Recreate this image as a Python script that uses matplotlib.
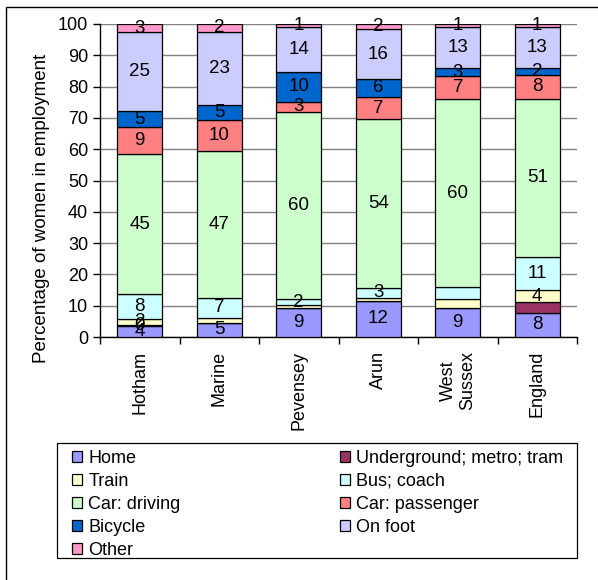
import matplotlib.pyplot as plt
import matplotlib.patches as mpatches
import numpy as np

plt.rcParams['font.family'] = ['Liberation Sans', 'DejaVu Sans']

areas = ["Hotham", "Marine", "Pevensey", "Arun", "West\nSussex", "England"]

modes = ["Home", "Underground; metro; tram", "Train", "Bus; coach",
         "Car: driving", "Car: passenger", "Bicycle", "On foot", "Other"]

home        = [3.6, 4.6, 9.4, 11.6, 9.3, 7.7]
underground = [0.2, 0.0, 0.0, 0.0, 0.0, 3.4]
train       = [2.0, 1.4, 0.7, 0.9, 2.7, 3.8]
bus         = [7.9, 6.6, 2.0, 3.2, 4.1, 10.6]
car_driving = [44.8, 46.8, 59.7, 53.9, 59.8, 50.6]
car_pass    = [8.6, 10.0, 3.4, 7.1, 7.4, 7.6]
bicycle     = [5.0, 4.8, 9.6, 5.8, 2.6, 2.2]
on_foot     = [25.2, 23.4, 14.1, 15.8, 13.1, 13.0]
other       = [2.7, 2.4, 1.1, 1.7, 1.0, 1.1]

series = [home, underground, train, bus, car_driving, car_pass, bicycle, on_foot, other]

colors = ["#9999FF", "#993366", "#FFFFCC", "#CCFFFF", "#CCFFCC",
          "#FF8080", "#0066CC", "#CCCCFF", "#FF99CC"]

# labels that the original chart leaves out (series index, area index)
hidden = {(1, 1), (1, 2), (1, 3), (1, 4), (1, 5),
          (2, 1), (2, 2), (2, 3), (2, 4), (3, 4)}

W, H = 598, 580
fig = plt.figure(figsize=(W / 100, H / 100), dpi=100)
ax = fig.add_axes([100 / W, 1 - 337 / H, 477 / W, 313 / H])

x = np.arange(len(areas))
bottom = np.zeros(len(areas))
handles = []
for i, (name, vals, col) in enumerate(zip(modes, series, colors)):
    vals = np.array(vals)
    bars = ax.bar(x, vals, 0.57, bottom=bottom, color=col, edgecolor="black",
                  linewidth=0.9, label=name, zorder=3)
    handles.append(bars)
    for j, v in enumerate(vals):
        if (i, j) in hidden:
            continue
        ax.text(x[j], bottom[j] + v / 2, f"{v:.0f}", ha="center", va="center",
                fontsize=13.5, zorder=4)
    bottom += vals

ax.set_xlim(-0.5, len(areas) - 0.5)
ax.set_ylim(0, 100)
ax.set_yticks(range(0, 101, 10))
ax.yaxis.grid(True, color="#808080", linewidth=1, zorder=0)
ax.set_xticks(x)
ax.set_xticklabels(areas, rotation=90, fontsize=13, ha="center", va="top",
                   multialignment="center")
ax.set_xticks(np.arange(len(areas) + 1) - 0.5, minor=True)
ax.tick_params(axis="x", which="major", length=0, pad=10)
ax.tick_params(axis="x", which="minor", length=5, direction="out", width=1)
ax.tick_params(axis="y", length=5, direction="out", labelsize=13, width=1)
ax.set_ylabel("Percentage of women in employment", fontsize=13.5)
ax.yaxis.set_label_coords(-0.105, 0.41)
for side in ["top", "right"]:
    ax.spines[side].set_visible(False)
ax.spines["left"].set_linewidth(1)
ax.spines["bottom"].set_linewidth(1)

# legend laid out row by row like the original
order = [0, 2, 4, 6, 8, 1, 3, 5, 7]
leg = fig.legend([handles[k] for k in order], [modes[k] for k in order],
                 ncol=2, loc="upper left",
                 bbox_to_anchor=(72 / W, 1 - 450 / H, 491 / W, 0),
                 bbox_transform=fig.transFigure, mode="expand",
                 fontsize=13, frameon=False,
                 handlelength=0.55, handleheight=0.55, handletextpad=0.35,
                 labelspacing=0.33, borderpad=0, borderaxespad=0)
fig.add_artist(mpatches.Rectangle((57 / W, 1 - 558 / H), 520 / W, 115 / H,
                                  transform=fig.transFigure, fill=False,
                                  edgecolor="black", linewidth=0.9))

# outer frame of the picture
fig.add_artist(mpatches.Rectangle((6 / W, -0.5), 2, 1.5 - 7 / H,
                                  transform=fig.transFigure, fill=False,
                                  edgecolor="black", linewidth=1))

fig.savefig("out.png", dpi=100)
